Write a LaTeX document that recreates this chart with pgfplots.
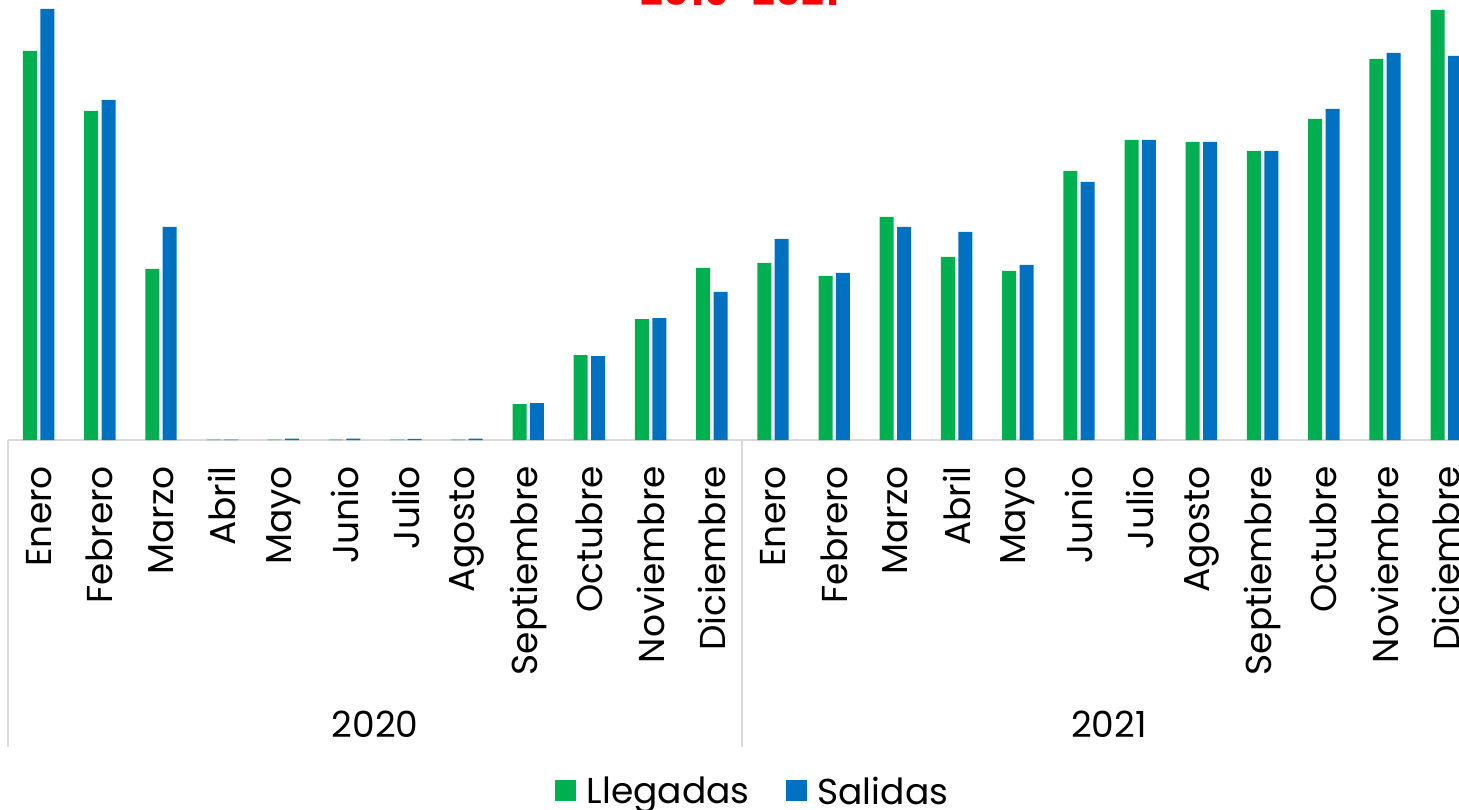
\documentclass[border=0pt]{standalone}
\usepackage{fontspec}
\setmainfont{Poppins}
\usepackage{pgfplots}
\usepackage{pgfplotstable}
\pgfplotsset{compat=1.18}
\definecolor{cgreen}{HTML}{00B050}
\definecolor{cblue}{HTML}{0070C0}
\definecolor{cgray}{HTML}{D9D9D9}
\pgfplotstableread{
x g b
0 389 431
1 329 340
2 171 213
3 0.3 0.5
4 0.5 1.5
5 0.3 1.5
6 0.3 1.2
7 0.3 1.5
8 36 37
9 85 84
10 121 122
11 172 148
12 177 201
13 164 167
14 223 213
15 183 208
16 169 175
17 269 258
18 300 300
19 298 298
20 289 289
21 321 331
22 381 387
23 430 384
}\data
\begin{document}
\begin{tikzpicture}[x=1pt,y=1pt]
\useasboundingbox (0,0) rectangle (1459,809);
\begin{axis}[
  at={(8pt,369pt)}, anchor=south west,
  scale only axis, width=1468.8pt, height=440pt,
  xmin=-0.5, xmax=23.5, ymin=0, ymax=440,
  ybar=3.4pt, bar width=14pt,
  axis x line*=bottom, axis y line=none,
  x axis line style={cgray, line width=1.5pt, -},
  xtick={0,...,23},
  xticklabels={Enero,Febrero,Marzo,Abril,Mayo,Junio,Julio,Agosto,Septiembre,Octubre,Noviembre,Diciembre,Enero,Febrero,Marzo,Abril,Mayo,Junio,Julio,Agosto,Septiembre,Octubre,Noviembre,Diciembre},
  major tick length=0pt,
  xticklabel style={rotate=90, anchor=east, inner sep=0pt, xshift=-26pt, font=\fontsize{36}{36}\selectfont},
  clip=false,
  legend columns=2,
  legend style={at={(0.5,-0.798)}, anchor=center, draw=none, fill=none, xshift=10pt,
    font=\fontsize{36}{36}\selectfont,
    /tikz/every odd column/.append style={column sep=9pt},
    /tikz/every even column/.append style={column sep=34pt}},
  legend image code/.code={\fill[#1] (0pt,-10pt) rectangle (21pt,11pt);},
]
\addplot[fill=cgreen, draw=none] table[x=x,y=g]{\data};
\addplot[fill=cblue, draw=none] table[x=x,y=b]{\data};
\legend{Llegadas,Salidas}
\end{axis}
\draw[cgray, line width=1.5pt] (8,369) -- (8,62);
\draw[cgray, line width=1.5pt] (742,369) -- (742,62);
\draw[cgray, line width=1.5pt] (1477,369) -- (1477,62);
\node[anchor=base, font=\fontsize{36}{36}\selectfont] at (375,72) {2020};
\node[anchor=base, font=\fontsize{36}{36}\selectfont] at (1109,72) {2021};
\node[anchor=base, text=red, font=\fontsize{40}{40}\selectfont\bfseries] at (740,803) {2019-2021};
\end{tikzpicture}
\end{document}
